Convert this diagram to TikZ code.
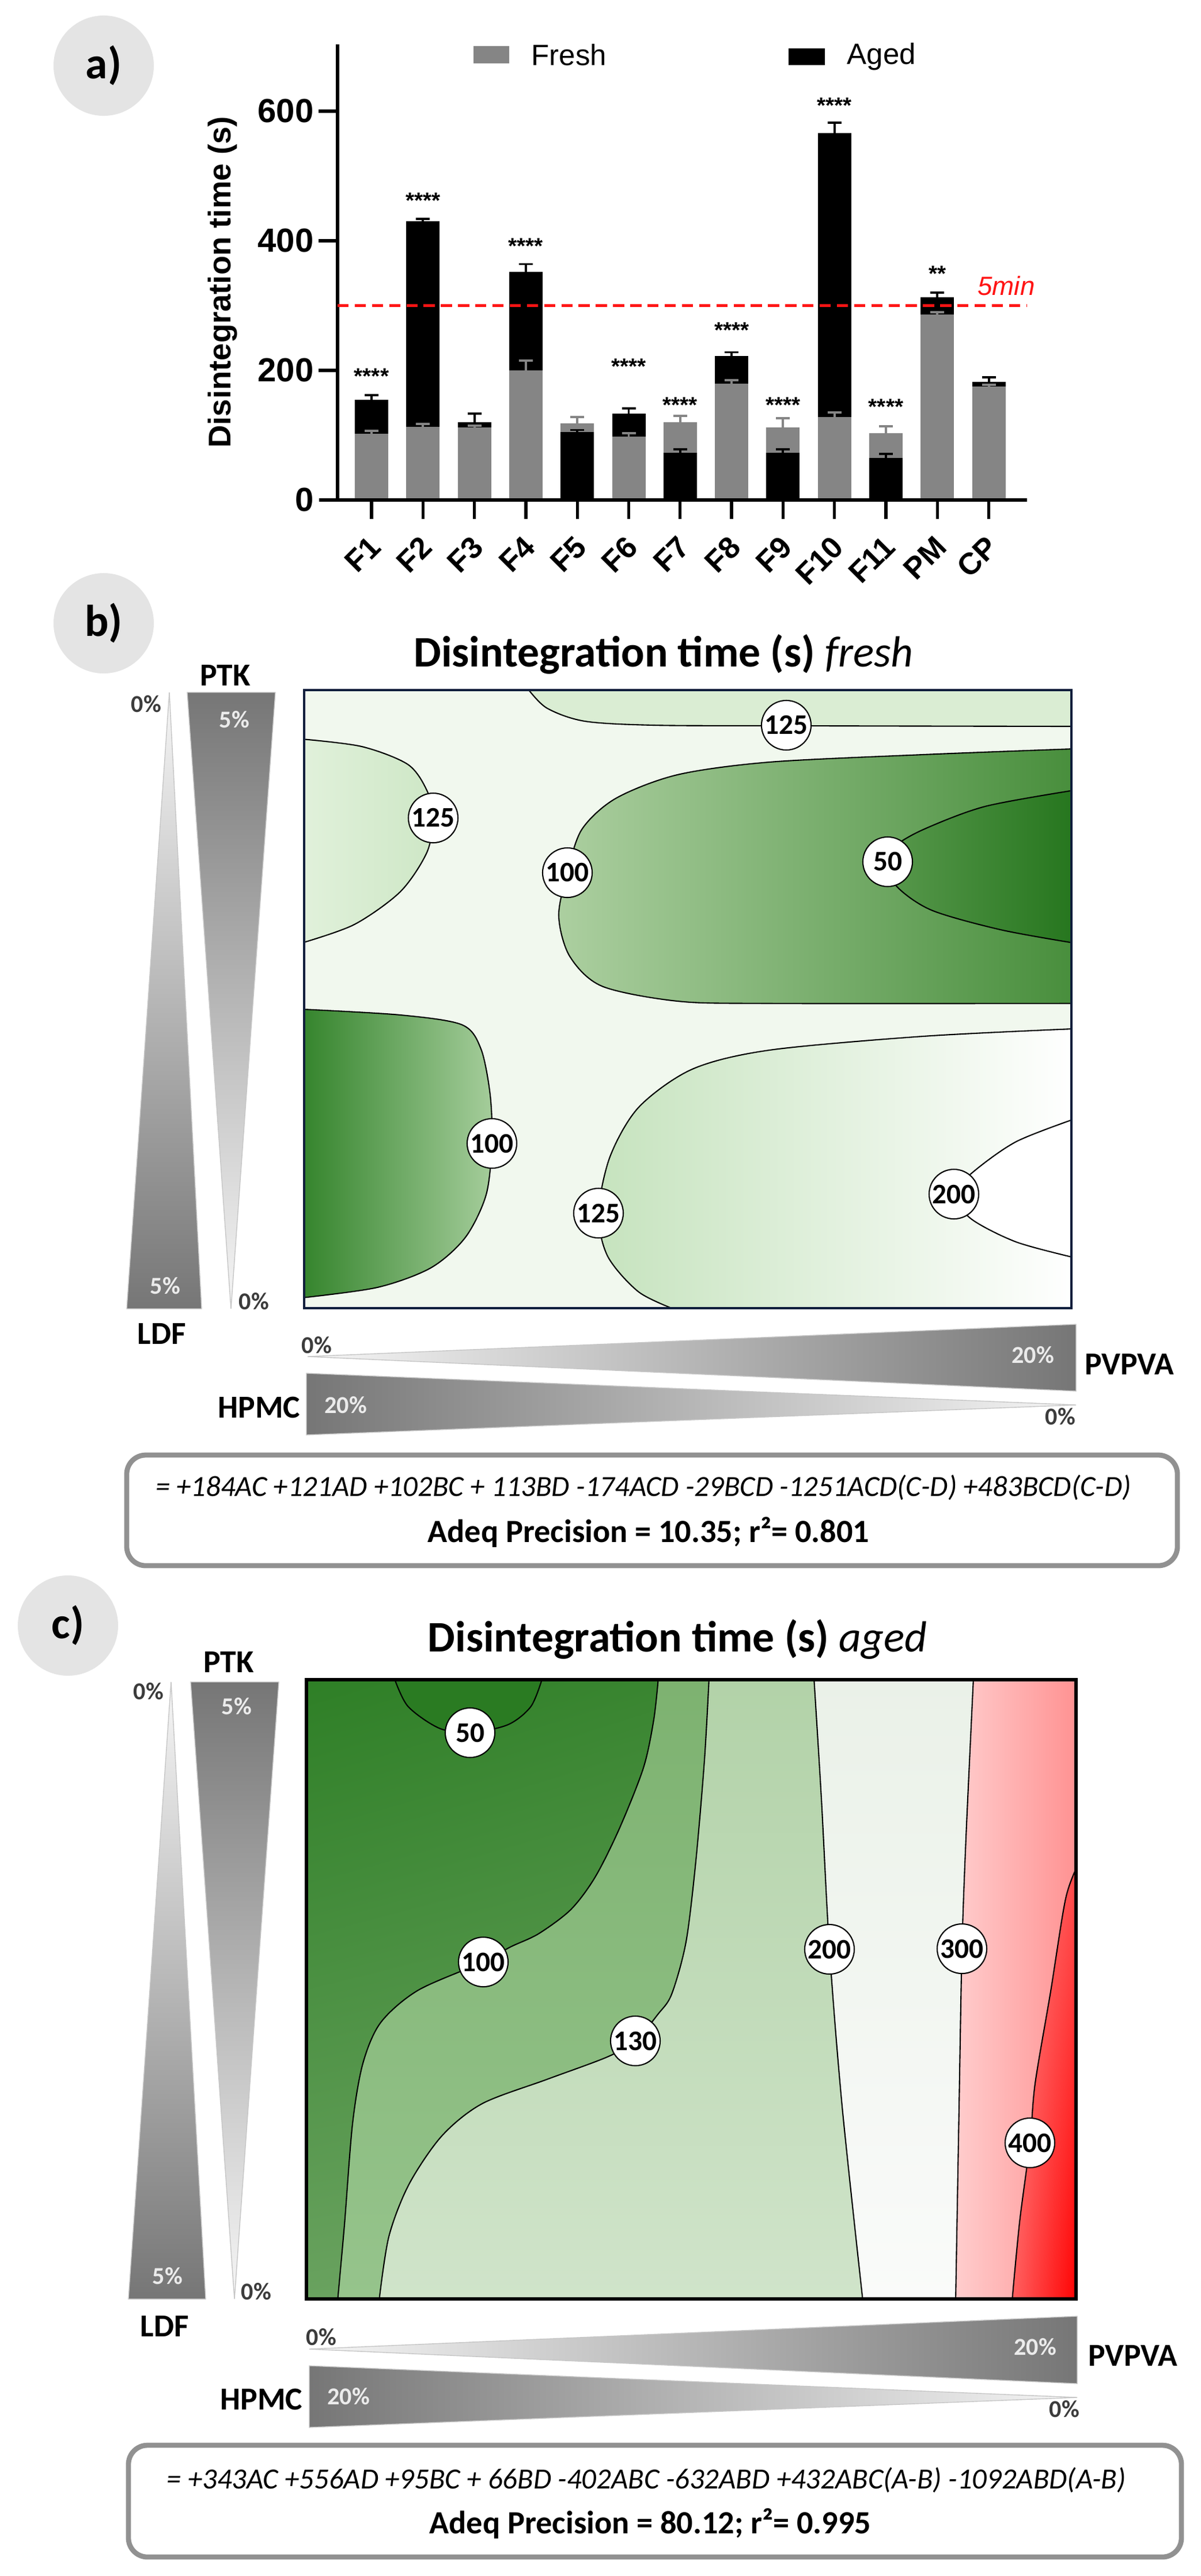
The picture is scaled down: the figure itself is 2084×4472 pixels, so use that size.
\documentclass[tikz,border=0pt]{standalone}
\usepackage{fontspec}
\usetikzlibrary{shadings}
\setmainfont{Carlito}
\newfontfamily\arialf{Liberation Sans}
\newcommand\fsz[1]{\fontsize{#1pt}{#1pt}\selectfont}
\definecolor{barg}{RGB}{133,133,133}
\definecolor{redl}{RGB}{255,20,20}
\definecolor{circg}{RGB}{228,228,228}
\definecolor{eqg}{RGB}{145,145,145}
\definecolor{bnavy}{RGB}{15,30,60}
\definecolor{bpale}{RGB}{241,248,238}
\definecolor{gA}{RGB}{218,237,211}
\definecolor{gBa}{RGB}{225,241,219}
\definecolor{gBb}{RGB}{206,231,198}
\definecolor{gCa}{RGB}{172,207,160}
\definecolor{gCm}{RGB}{108,167,94}
\definecolor{gCb}{RGB}{72,142,60}
\definecolor{gDa}{RGB}{88,152,76}
\definecolor{gDb}{RGB}{38,118,30}
\definecolor{gEa}{RGB}{52,132,44}
\definecolor{gEb}{RGB}{165,205,155}
\definecolor{gFa}{RGB}{198,227,190}
\definecolor{gFm}{RGB}{236,245,233}
\definecolor{cA}{RGB}{42,123,34}
\definecolor{cul}{RGB}{46,127,38}
\definecolor{cur}{RGB}{70,140,60}
\definecolor{cll}{RGB}{105,162,95}
\definecolor{clr}{RGB}{118,170,106}
\definecolor{cBt}{RGB}{125,178,112}
\definecolor{cBb}{RGB}{150,196,140}
\definecolor{cCt}{RGB}{178,210,168}
\definecolor{cCb}{RGB}{208,228,202}
\definecolor{cDt}{RGB}{234,241,232}
\definecolor{cDb}{RGB}{250,251,250}
\definecolor{cEl}{RGB}{255,205,205}
\definecolor{cEr}{RGB}{255,145,145}
\definecolor{cFul}{RGB}{255,135,135}
\definecolor{cFur}{RGB}{255,75,75}
\definecolor{cFll}{RGB}{255,95,95}
\definecolor{cFlr}{RGB}{255,0,0}
\definecolor{tdark}{RGB}{118,118,118}
\definecolor{tlight}{RGB}{246,246,246}
\definecolor{tmid}{RGB}{226,226,226}
\definecolor{pctdark}{RGB}{60,60,60}
\definecolor{pctlight}{RGB}{235,235,235}
\newcommand\vbar[4]{%
  \fill[#4] ({#1-29},868) rectangle ({#1+29},{868-1.125*#2});
  \draw[#4,line width=1.1pt] (#1,{868-1.125*#2}) -- (#1,{868-1.125*#3})
     ({#1-12},{868-1.125*#3}) -- ({#1+12},{868-1.125*#3});}
\begin{document}
\begin{tikzpicture}[x=0.01cm,y=-0.01cm,
  lab/.style={circle,draw=black,fill=white,line width=0.6pt,minimum size=0.86cm,inner sep=0pt,font=\fsz{14}\bfseries},
  plbl/.style={circle,fill=circg,minimum size=1.74cm,inner sep=0pt,font=\fsz{22}\bfseries},
  ctr/.style={draw=black,line width=0.6pt},
  pcd/.style={font=\fsz{12}\bfseries,text=pctdark,inner sep=0pt},
  pcl/.style={font=\fsz{12}\bfseries,text=pctlight,inner sep=0pt},
  fac/.style={font=\fsz{15.8}\bfseries,inner sep=0pt},
  eqbox/.style={draw=eqg,line width=2.5pt,rounded corners=0.33cm},
  ytl/.style={font=\arialf\bfseries\fsz{16.5},anchor=east,inner sep=0pt},
  xtl/.style={font=\arialf\bfseries\fsz{15},anchor=north east,inner sep=0pt},
  stars/.style={font=\arialf\bfseries\fsz{11},inner sep=0pt},
  trip/.style={draw=gray!45,line width=0.4pt},
  ttl/.style={font=\fsz{21.5},inner sep=0pt}]
\useasboundingbox (0,0) rectangle (2084,4472);
\fill[white] (0,0) rectangle (2084,4472);

% ================= panel a =================
\node[plbl] (pa) at (180,114) {a)};
% bars
\vbar{645}{155}{162}{black}\vbar{645}{102}{107}{barg}
\vbar{734.3}{430}{434}{black}\vbar{734.3}{113}{117}{barg}
\vbar{823.6}{120}{133}{black}\vbar{823.6}{112}{115}{barg}
\vbar{912.9}{352}{364}{black}\vbar{912.9}{200}{215}{barg}
\vbar{1002.2}{118}{128}{barg}\vbar{1002.2}{105}{108}{black}
\vbar{1091.5}{133}{141}{black}\vbar{1091.5}{98}{103}{barg}
\vbar{1180.8}{120}{130}{barg}\vbar{1180.8}{73}{78}{black}
\vbar{1270.1}{222}{228}{black}\vbar{1270.1}{180}{185}{barg}
\vbar{1359.4}{112}{126}{barg}\vbar{1359.4}{73}{78}{black}
\vbar{1448.7}{566}{582}{black}\vbar{1448.7}{128}{135}{barg}
\vbar{1538}{103}{114}{barg}\vbar{1538}{65}{71}{black}
\vbar{1627.3}{313}{320}{black}\vbar{1627.3}{286}{290}{barg}
\vbar{1716.6}{182}{189}{black}\vbar{1716.6}{175}{178}{barg}
% axes
\draw[line width=1.5pt] (586,77) -- (586,868);
\draw[line width=1.5pt] (554,868) -- (1783,868);
\foreach \v/\n in {200/ta2,400/ta4,600/ta6}{
  \draw[line width=1.5pt] (553,{868-1.125*\v}) -- (586,{868-1.125*\v});
  \node[ytl] (\n) at (545,{868-1.125*\v}) {\v};}
\node[ytl] (ta0) at (545,868) {0};
\foreach \x/\lb/\n in {645/F1/xa1,734.3/F2/xa2,823.6/F3/xa3,912.9/F4/xa4,1002.2/F5/xa5,1091.5/F6/xa6,1180.8/F7/xa7,1270.1/F8/xa8,1359.4/F9/xa9,1448.7/F10/xa10,1538/F11/xa11,1627.3/PM/xa12,1716.6/CP/xa13}{
  \draw[line width=1.5pt] (\x,868) -- (\x,901);
  \node[xtl] (\n) at ({\x+20},927) {\rotatebox{45}{\lb}};}
\node[font=\arialf\bfseries\fsz{15.5},inner sep=0pt] (ylab) at (387,490) {\rotatebox{90}{Disintegration time (s)}};
% legend
\fill[barg] (822,80) rectangle (884,110);
\node[anchor=west,font=\arialf\fsz{14.5},inner sep=0pt] (lgf) at (922,95) {Fresh};
\fill[black] (1369,84) rectangle (1432,113);
\node[anchor=west,font=\arialf\fsz{14.5},inner sep=0pt] (lga) at (1470,98) {Aged};
% 5 min line
\draw[redl,line width=1.5pt,dash pattern=on 5.5pt off 3pt] (586,530.5) -- (1783,530.5);
\node[text=redl,font=\arialf\itshape\fsz{13},inner sep=0pt] (fivemin) at (1747,496) {5min};
% stars
\node[stars] (s1) at (645,653) {****};
\node[stars] (s2) at (734.3,348) {****};
\node[stars] (s4) at (912.9,427) {****};
\node[stars] (s6) at (1091.5,636) {****};
\node[stars] (s7) at (1180.8,703) {****};
\node[stars] (s8) at (1270.1,573) {****};
\node[stars] (s9) at (1359.4,703) {****};
\node[stars] (s10) at (1448.7,183) {****};
\node[stars] (s11) at (1538,706) {****};
\node[stars] (s12) at (1627.3,475) {**};

% ================= panel b =================
\node[plbl] (pb) at (180,1082) {b)};
\node[ttl] (tb) at (1152,1136) {\textbf{Disintegration time (s)} \textit{fresh}};
\begin{scope}
\clip (528,1198) rectangle (1860,2271);
\fill[bpale] (528,1198) rectangle (1860,2271);
\fill[gA,ctr] plot[smooth] coordinates {(915,1194) (949,1229) (1015,1252) (1136,1259) (1365,1260) (1864,1261)} -- (1864,1194) -- cycle;
\shade[ctr,left color=gBa,right color=gBb] plot[smooth] coordinates {(524,1283) (628,1296) (708,1327) (741,1372) (752,1420) (741,1480) (695,1548) (615,1605) (524,1637)} -- cycle;
\shade[ctr,left color=gCa,middle color=gCm,right color=gCb] plot[smooth] coordinates {(1864,1300) (1603,1310) (1336,1323) (1176,1345) (1069,1386) (1010,1440) (985,1515) (970,1590) (989,1660) (1045,1712) (1176,1738) (1336,1742) (1864,1742)} -- cycle;
\shade[ctr,left color=gDa,right color=gDb] plot[smooth] coordinates {(1864,1372) (1710,1400) (1603,1440) (1552,1470) (1541,1496) (1556,1538) (1617,1580) (1737,1614) (1864,1637)} -- cycle;
\shade[ctr,left color=gEa,right color=gEb] plot[smooth] coordinates {(524,1752) (695,1762) (802,1779) (835,1821) (851,1901) (854,1985) (844,2074) (808,2148) (748,2201) (655,2235) (524,2253)} -- cycle;
\shade[ctr,left color=gFa,middle color=gFm,right color=white] plot[smooth] coordinates {(1864,1786) (1603,1799) (1336,1823) (1202,1856) (1109,1922) (1059,2008) (1039,2106) (1055,2181) (1109,2243) (1176,2275)} -- (1864,2275) -- cycle;
\fill[white,ctr] plot[smooth] coordinates {(1864,1943) (1764,1982) (1690,2034) (1656,2073) (1686,2116) (1764,2156) (1864,2183)} -- cycle;
\end{scope}
\draw[bnavy,line width=1.4pt] (528,1198) rectangle (1860,2271);
\node[lab] (b125a) at (1365,1259) {125};
\node[lab] (b125b) at (752,1420) {125};
\node[lab] (b100a) at (985,1515) {100};
\node[lab] (b50) at (1541,1496) {50};
\node[lab] (b100b) at (854,1985) {100};
\node[lab] (b125c) at (1039,2106) {125};
\node[lab] (b200) at (1656,2073) {200};
% vertical wedges b
\shade[trip,top color=tlight,bottom color=tdark] (294,1202) -- (350,2272) -- (220,2272) -- cycle;
\shade[trip,top color=tdark,bottom color=tlight] (325,1202) -- (478,1202) -- (401,2272) -- cycle;
\node[fac] (bptk) at (391,1172) {PTK};
\node[pcd] (bp0a) at (254,1222) {0\%};
\node[pcl] (bp5a) at (407,1249) {5\%};
\node[pcl] (bp5b) at (287,2232) {5\%};
\node[pcd] (bp0b) at (441,2259) {0\%};
\node[fac] (bldf) at (281,2315) {LDF};
% horizontal wedges b
\shade[trip,left color=tlight,middle color=tmid,right color=tdark] (534,2355) -- (1868,2299) -- (1868,2415) -- cycle;
\shade[trip,left color=tdark,middle color=tmid,right color=tlight] (532,2384) -- (532,2491) -- (1868,2439) -- cycle;
\node[pcd] (bh0a) at (550,2335) {0\%};
\node[pcl] (bh20a) at (1793,2352) {20\%};
\node[fac] (bpvp) at (1961,2368) {PVPVA};
\node[fac] (bhpmc) at (450,2443) {HPMC};
\node[pcl] (bh20b) at (600,2439) {20\%};
\node[pcd] (bh0b) at (1841,2459) {0\%};
% equation b
\draw[eqbox] (220,2526) rectangle (2044,2718);
\node[font=\fsz{14.4}\itshape,inner sep=0pt] (eqb) at (1117,2582) {= +184AC +121AD +102BC + 113BD -174ACD -29BCD -1251ACD(C-D) +483BCD(C-D)};
\node[font=\fsz{16}\bfseries,inner sep=0pt] (adb) at (1126,2660) {Adeq Precision = 10.35; r²= 0.801};

% ================= panel c =================
\node[plbl] (pc) at (118,2822) {c)};
\node[ttl] (tc) at (1176,2846) {\textbf{Disintegration time (s)} \textit{aged}};
\begin{scope}
\clip (532,2916) rectangle (1868,3991);
\shade[upper left=cul,upper right=cur,lower left=cll,lower right=clr] (532,2916) rectangle (1868,3991);
\fill[cA,ctr] plot[smooth] coordinates {(684,2912) (708,2962) (762,3000) (816,3008) (882,2994) (922,2962) (942,2912)} -- cycle;
\shade[ctr,top color=cBt,bottom color=cBb] plot[smooth] coordinates {(1143,2912) (1135,2985) (1117,3069) (1075,3175) (1033,3259) (991,3315) (935,3357) (886,3380) (839,3406) (726,3455) (661,3511) (630,3582) (612,3687) (598,3862) (586,3995)} -- (1872,3995) -- (1872,2912) -- cycle;
\shade[ctr,top color=cCt,bottom color=cCb] plot[smooth] coordinates {(1231,2912) (1223,3055) (1208,3231) (1191,3371) (1166,3462) (1142,3497) (1103,3543) (1054,3571) (949,3610) (837,3652) (767,3708) (710,3792) (675,3883) (658,3995)} -- (1872,3995) -- (1872,2912) -- cycle;
\shade[ctr,top color=cDt,bottom color=cDb] plot[smooth] coordinates {(1413,2912) (1426,3123) (1440,3384) (1462,3657) (1498,3995)} -- (1872,3995) -- (1872,2912) -- cycle;
\shade[ctr,left color=cEl,right color=cEr] plot[smooth] coordinates {(1690,2912) (1677,3190) (1670,3383) (1665,3657) (1659,3995)} -- (1872,3995) -- (1872,2912) -- cycle;
\shade[ctr,upper left=cFul,upper right=cFur,lower left=cFll,lower right=cFlr] plot[smooth] coordinates {(1872,3236) (1850,3296) (1824,3457) (1797,3617) (1788,3720) (1770,3858) (1757,3995)} -- (1872,3995) -- cycle;
\end{scope}
\draw[black,line width=1.5pt] (532,2916) rectangle (1868,3991);
\node[lab] (c50) at (816,3008) {50};
\node[lab] (c100) at (839,3406) {100};
\node[lab] (c130) at (1103,3543) {130};
\node[lab] (c200) at (1440,3384) {200};
\node[lab] (c300) at (1670,3383) {300};
\node[lab] (c400) at (1788,3720) {400};
% vertical wedges c
\shade[trip,top color=tlight,bottom color=tdark] (297,2920) -- (357,3991) -- (223,3991) -- cycle;
\shade[trip,top color=tdark,bottom color=tlight] (331,2920) -- (484,2920) -- (407,3991) -- cycle;
\node[fac] (cptk) at (397,2885) {PTK};
\node[pcd] (cp0a) at (258,2936) {0\%};
\node[pcl] (cp5a) at (411,2962) {5\%};
\node[pcl] (cp5b) at (291,3951) {5\%};
\node[pcd] (cp0b) at (445,3978) {0\%};
\node[fac] (cldf) at (286,4038) {LDF};
% horizontal wedges c
\shade[trip,left color=tlight,middle color=tmid,right color=tdark] (537,4078) -- (1870,4021) -- (1870,4138) -- cycle;
\shade[trip,left color=tdark,middle color=tmid,right color=tlight] (537,4107) -- (537,4214) -- (1870,4162) -- cycle;
\node[pcd] (ch0a) at (558,4057) {0\%};
\node[pcl] (ch20a) at (1797,4074) {20\%};
\node[fac] (cpvp) at (1967,4089) {PVPVA};
\node[fac] (chpmc) at (454,4165) {HPMC};
\node[pcl] (ch20b) at (605,4160) {20\%};
\node[pcd] (ch0b) at (1848,4182) {0\%};
% equation c
\draw[eqbox] (223,4245) rectangle (2051,4439);
\node[font=\fsz{14.4}\itshape,inner sep=0pt] (eqc) at (1122,4305) {= +343AC +556AD +95BC + 66BD -402ABC -632ABD +432ABC(A-B) -1092ABD(A-B)};
\node[font=\fsz{16}\bfseries,inner sep=0pt] (adc) at (1129,4381) {Adeq Precision = 80.12; r²= 0.995};
\end{tikzpicture}
\end{document}
